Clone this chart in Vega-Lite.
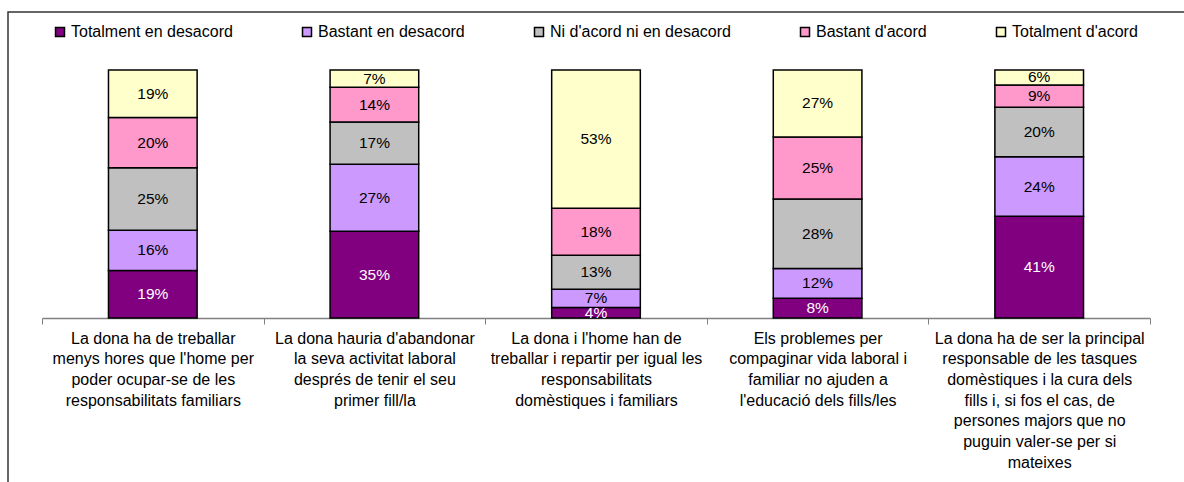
{
  "$schema": "https://vega.github.io/schema/vega-lite/v6.json",
  "width": 1190,
  "height": 480,
  "autosize": {"type": "none"},
  "padding": {"left": 8, "top": 12, "right": 0, "bottom": 0},
  "background": "white",
  "config": {
    "view": {"stroke": "#333333", "strokeWidth": 1.5},
    "font": "Liberation Sans"
  },
  "data": {
    "values": [
      {"q": "La dona ha de treballar|menys hores que l'home per|poder ocupar-se de les|responsabilitats familiars", "s": "Totalment en desacord", "o": 1, "v": 0.19},
      {"q": "La dona ha de treballar|menys hores que l'home per|poder ocupar-se de les|responsabilitats familiars", "s": "Bastant en desacord", "o": 2, "v": 0.16},
      {"q": "La dona ha de treballar|menys hores que l'home per|poder ocupar-se de les|responsabilitats familiars", "s": "Ni d'acord ni en desacord", "o": 3, "v": 0.25},
      {"q": "La dona ha de treballar|menys hores que l'home per|poder ocupar-se de les|responsabilitats familiars", "s": "Bastant d'acord", "o": 4, "v": 0.20},
      {"q": "La dona ha de treballar|menys hores que l'home per|poder ocupar-se de les|responsabilitats familiars", "s": "Totalment d'acord", "o": 5, "v": 0.19},
      {"q": "La dona hauria d'abandonar|la seva activitat laboral|després de tenir el seu|primer fill/la", "s": "Totalment en desacord", "o": 1, "v": 0.35},
      {"q": "La dona hauria d'abandonar|la seva activitat laboral|després de tenir el seu|primer fill/la", "s": "Bastant en desacord", "o": 2, "v": 0.27},
      {"q": "La dona hauria d'abandonar|la seva activitat laboral|després de tenir el seu|primer fill/la", "s": "Ni d'acord ni en desacord", "o": 3, "v": 0.17},
      {"q": "La dona hauria d'abandonar|la seva activitat laboral|després de tenir el seu|primer fill/la", "s": "Bastant d'acord", "o": 4, "v": 0.14},
      {"q": "La dona hauria d'abandonar|la seva activitat laboral|després de tenir el seu|primer fill/la", "s": "Totalment d'acord", "o": 5, "v": 0.07},
      {"q": "La dona i l'home han de|treballar i repartir per igual les|responsabilitats|domèstiques i familiars", "s": "Totalment en desacord", "o": 1, "v": 0.04},
      {"q": "La dona i l'home han de|treballar i repartir per igual les|responsabilitats|domèstiques i familiars", "s": "Bastant en desacord", "o": 2, "v": 0.07},
      {"q": "La dona i l'home han de|treballar i repartir per igual les|responsabilitats|domèstiques i familiars", "s": "Ni d'acord ni en desacord", "o": 3, "v": 0.13},
      {"q": "La dona i l'home han de|treballar i repartir per igual les|responsabilitats|domèstiques i familiars", "s": "Bastant d'acord", "o": 4, "v": 0.18},
      {"q": "La dona i l'home han de|treballar i repartir per igual les|responsabilitats|domèstiques i familiars", "s": "Totalment d'acord", "o": 5, "v": 0.53},
      {"q": "Els problemes per|compaginar vida laboral i|familiar no ajuden a|l'educació dels fills/les", "s": "Totalment en desacord", "o": 1, "v": 0.08},
      {"q": "Els problemes per|compaginar vida laboral i|familiar no ajuden a|l'educació dels fills/les", "s": "Bastant en desacord", "o": 2, "v": 0.12},
      {"q": "Els problemes per|compaginar vida laboral i|familiar no ajuden a|l'educació dels fills/les", "s": "Ni d'acord ni en desacord", "o": 3, "v": 0.28},
      {"q": "Els problemes per|compaginar vida laboral i|familiar no ajuden a|l'educació dels fills/les", "s": "Bastant d'acord", "o": 4, "v": 0.25},
      {"q": "Els problemes per|compaginar vida laboral i|familiar no ajuden a|l'educació dels fills/les", "s": "Totalment d'acord", "o": 5, "v": 0.27},
      {"q": "La dona ha de ser la principal|responsable de les tasques|domèstiques i la cura dels|fills i, si fos el cas, de|persones majors que no|puguin valer-se per si|mateixes", "s": "Totalment en desacord", "o": 1, "v": 0.41},
      {"q": "La dona ha de ser la principal|responsable de les tasques|domèstiques i la cura dels|fills i, si fos el cas, de|persones majors que no|puguin valer-se per si|mateixes", "s": "Bastant en desacord", "o": 2, "v": 0.24},
      {"q": "La dona ha de ser la principal|responsable de les tasques|domèstiques i la cura dels|fills i, si fos el cas, de|persones majors que no|puguin valer-se per si|mateixes", "s": "Ni d'acord ni en desacord", "o": 3, "v": 0.20},
      {"q": "La dona ha de ser la principal|responsable de les tasques|domèstiques i la cura dels|fills i, si fos el cas, de|persones majors que no|puguin valer-se per si|mateixes", "s": "Bastant d'acord", "o": 4, "v": 0.09},
      {"q": "La dona ha de ser la principal|responsable de les tasques|domèstiques i la cura dels|fills i, si fos el cas, de|persones majors que no|puguin valer-se per si|mateixes", "s": "Totalment d'acord", "o": 5, "v": 0.06}
    ]
  },
  "encoding": {
    "x": {
      "field": "q",
      "type": "nominal",
      "sort": null,
      "scale": {"range": [34, 1142], "paddingInner": 0, "paddingOuter": 0},
      "axis": {
        "title": null,
        "orient": "bottom",
        "offset": -174,
        "labelAngle": 0,
        "labelExpr": "split(datum.label, '|')",
        "labelFont": "Liberation Sans",
        "labelFontSize": 16,
        "labelLineHeight": 20.7,
        "labelColor": "black",
        "labelLimit": 400,
        "labelPadding": 6,
        "labelBaseline": "top",
        "tickBand": "extent",
        "tickSize": 6,
        "tickColor": "#808080",
        "domainColor": "#808080",
        "domainWidth": 1.5,
        "grid": false
      }
    }
  },
  "layer": [
    {
      "mark": {"type": "bar", "width": {"band": 0.4}, "stroke": "black", "strokeWidth": 1.5},
      "encoding": {
        "y": {"field": "v", "type": "quantitative", "stack": "normalize", "scale": {"range": [306, 58]}, "axis": null},
        "order": {"field": "o", "type": "quantitative"},
        "color": {
          "field": "s",
          "type": "nominal",
          "scale": {
            "domain": ["Totalment en desacord", "Bastant en desacord", "Ni d'acord ni en desacord", "Bastant d'acord", "Totalment d'acord"],
            "range": ["#800080", "#CC99FF", "#C0C0C0", "#FF99CC", "#FFFFCC"]
          },
          "legend": {
            "title": null,
            "orient": "none",
            "direction": "horizontal",
            "legendX": 44,
            "legendY": 12,
            "padding": 0,
            "symbolType": "square",
            "symbolSize": 81,
            "symbolStrokeColor": "black",
            "symbolStrokeWidth": 1.5,
            "symbolOpacity": 1,
            "labelFont": "Liberation Sans",
            "labelFontSize": 16,
            "labelColor": "black",
            "labelOffset": 3,
            "labelLimit": 300,
            "columnPadding": 66
          }
        }
      }
    },
    {
      "mark": {"type": "text", "font": "Liberation Sans", "fontSize": 15.5, "baseline": "middle", "align": "center"},
      "encoding": {
        "y": {"field": "v", "type": "quantitative", "stack": "normalize", "bandPosition": 0.5},
        "order": {"field": "o", "type": "quantitative"},
        "detail": {"field": "s"},
        "text": {"field": "v", "type": "quantitative", "format": ".0%"},
        "color": {"condition": {"test": "datum.s === 'Totalment en desacord'", "value": "white"}, "value": "black"}
      }
    }
  ]
}
